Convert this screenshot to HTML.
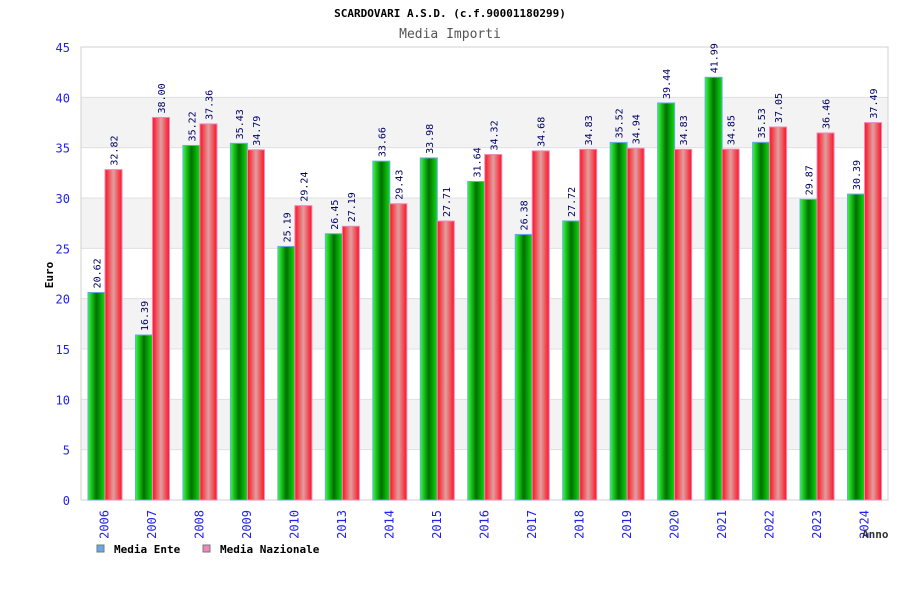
<!DOCTYPE html>
<html><head><meta charset="utf-8"><style>
body{margin:0;background:#fff;width:900px;height:600px;overflow:hidden}
svg text{font-family:"DejaVu Sans Mono","Liberation Mono",monospace}
</style></head><body>
<svg id="c" width="900" height="600" xmlns="http://www.w3.org/2000/svg">
<defs>
<linearGradient id="gG" x1="0" x2="1" y1="0" y2="0"><stop offset="0" stop-color="#33ff33"/><stop offset="0.5" stop-color="#007000"/><stop offset="1" stop-color="#11dd11"/></linearGradient>
<linearGradient id="gR" x1="0" x2="1" y1="0" y2="0"><stop offset="0" stop-color="#ff1020"/><stop offset="0.5" stop-color="#dfa0a0"/><stop offset="1" stop-color="#ff1020"/></linearGradient>
</defs>
<text x="450" y="17" text-anchor="middle" font-size="11" font-weight="bold" fill="#000">SCARDOVARI A.S.D. (c.f.90001180299)</text>
<text x="450" y="38" text-anchor="middle" font-size="13" fill="#555">Media Importi</text>
<g id="plot"></g>
<text transform="translate(53,275) rotate(-90)" text-anchor="middle" font-size="11" font-weight="bold" fill="#000">Euro</text>
<text x="862" y="538" font-size="11" font-weight="bold" fill="#333">Anno</text>
<g><rect x="97" y="545" width="7" height="7" fill="#66aaee" stroke="#777"/><text x="114" y="553" font-size="11" font-weight="bold">Media Ente</text></g>
<g><rect x="203" y="545" width="7" height="7" fill="#ee88bb" stroke="#777"/><text x="220" y="553" font-size="11" font-weight="bold">Media Nazionale</text></g>
</svg>
<script>
const years=["2006","2007","2008","2009","2010","2013","2014","2015","2016","2017","2018","2019","2020","2021","2022","2023","2024"];
const ente=[20.62,16.39,35.22,35.43,25.19,26.45,33.66,33.98,31.64,26.38,27.72,35.52,39.44,41.99,35.53,29.87,30.39];
const naz=[32.82,38.00,37.36,34.79,29.24,27.19,29.43,27.71,34.32,34.68,34.83,34.94,34.83,34.85,37.05,36.46,37.49];
const yTicks=[0,5,10,15,20,25,30,35,40,45];
const L=81,R=888,T=47,B=500,YMAX=45;
const ns="http://www.w3.org/2000/svg";
const g=document.getElementById('plot');
const y=v=>B-(v/YMAX)*(B-T);
const gw=(R-L)/years.length;
const xg=i=>L+gw*i;
function mk(t,a){const e=document.createElementNS(ns,t);for(const k in a)e.setAttribute(k,a[k]);g.appendChild(e);return e;}
for(let i=0;i<yTicks.length-1;i++){
  const r=mk('rect',{x:L,y:y(yTicks[i+1]),width:R-L,height:y(yTicks[i])-y(yTicks[i+1]),fill:i%2?'#f3f3f3':'#fff'});
  
  
}
yTicks.forEach(t=>{
  const l=mk('line',{x1:L,x2:R,y1:y(t),y2:y(t),stroke:'#e0e0e0'});
  
  
  const tx=mk('text',{x:70,y:y(t)+5,'text-anchor':'end','font-size':12,fill:'#2222ee'});
  tx.textContent=t;
  
  
});
mk('rect',{x:L,y:T,width:R-L,height:B-T,fill:'none',stroke:'#d0d0d0'});
years.forEach((yr,i)=>{
  const x0=xg(i)+7,bw=17;
  [[ente[i],'url(#gG)','#66aaee',x0,'bar-ente-'+yr],[naz[i],'url(#gR)','#ee88bb',x0+bw,'bar-nazionale-'+yr]].forEach(([v,f,s,x,n])=>{
    const b=mk('rect',{x:x,y:y(v),width:bw,height:B-y(v),fill:f,stroke:s,'stroke-width':1});
    
    
    const t=mk('text',{transform:`translate(${x+bw/2+4},${y(v)-4}) rotate(-90)`,'font-size':10,fill:'#000066'});
    t.textContent=v.toFixed(2);
    
    
  });
  const t=mk('text',{transform:`translate(${xg(i)+gw/2+4},510) rotate(-90)`,'text-anchor':'end','font-size':12,fill:'#2222ee'});
  t.textContent=yr;
  
  
});
</script>
</body></html>
